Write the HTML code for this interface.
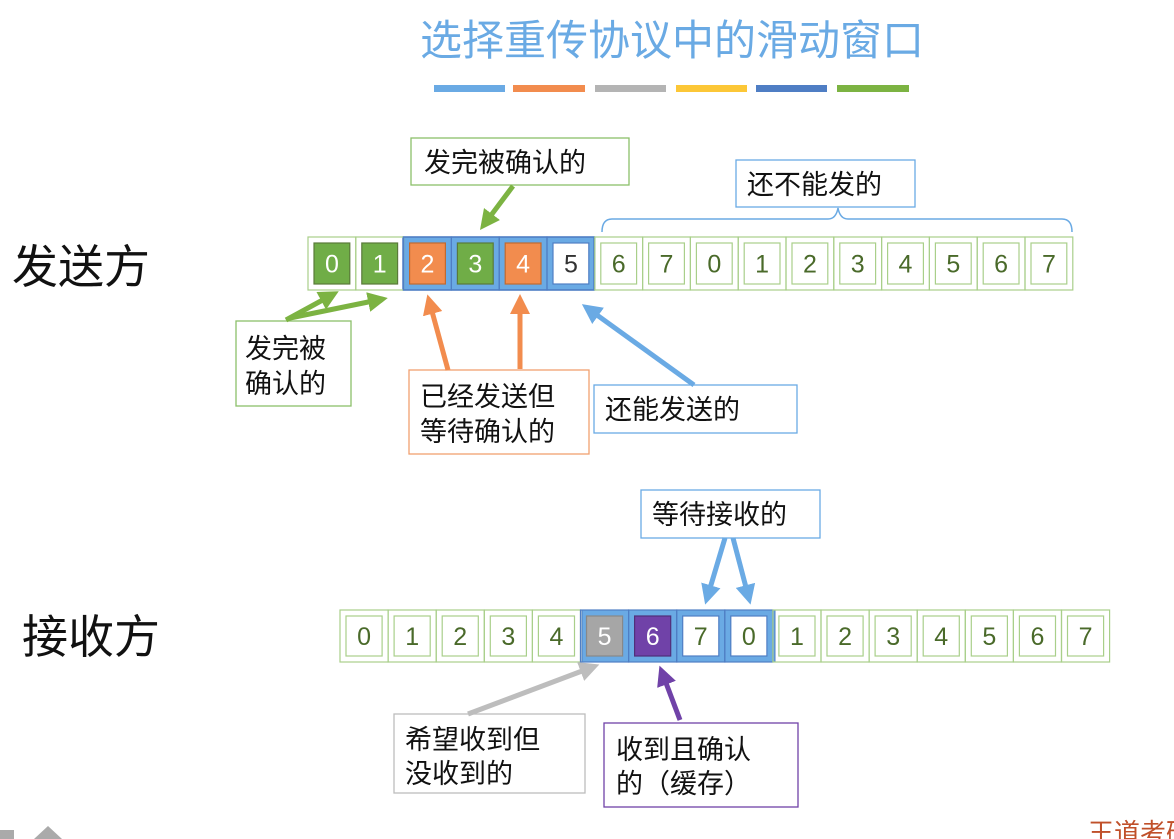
<!DOCTYPE html>
<html><head><meta charset="utf-8"><style>
html,body{margin:0;padding:0;background:#fff;}
svg{display:block;}
text{font-family:"Liberation Sans","Noto Sans CJK SC",sans-serif;}
</style></head><body>
<svg width="1174" height="839" viewBox="0 0 1174 839" xmlns="http://www.w3.org/2000/svg">
<defs>
<marker id="ag" markerWidth="4" markerHeight="4" refX="2" refY="2" orient="auto" markerUnits="strokeWidth"><path d="M0,0 L4,2 L0,4 z" fill="#7cb342"/></marker>
<marker id="ao" markerWidth="4" markerHeight="4" refX="2" refY="2" orient="auto" markerUnits="strokeWidth"><path d="M0,0 L4,2 L0,4 z" fill="#f28c4e"/></marker>
<marker id="ab" markerWidth="4" markerHeight="4" refX="2" refY="2" orient="auto" markerUnits="strokeWidth"><path d="M0,0 L4,2 L0,4 z" fill="#6aaae4"/></marker>
<marker id="ay" markerWidth="4" markerHeight="4" refX="2" refY="2" orient="auto" markerUnits="strokeWidth"><path d="M0,0 L4,2 L0,4 z" fill="#bdbdbd"/></marker>
<marker id="ap" markerWidth="4" markerHeight="4" refX="2" refY="2" orient="auto" markerUnits="strokeWidth"><path d="M0,0 L4,2 L0,4 z" fill="#7042a8"/></marker>
</defs>
<text x="672" y="55" text-anchor="middle" font-size="42" fill="#6aaae4">选择重传协议中的滑动窗口</text>
<g>
<rect x="434" y="85" width="71" height="7" fill="#6aaae4"/>
<rect x="513" y="85" width="72" height="7" fill="#f28c4e"/>
<rect x="595" y="85" width="71" height="7" fill="#b4b4b4"/>
<rect x="676" y="85" width="71" height="7" fill="#fcc737"/>
<rect x="756" y="85" width="71" height="7" fill="#4f7ec4"/>
<rect x="837" y="85" width="72" height="7" fill="#7cb342"/>
</g>
<text x="12" y="283" font-size="46" fill="#111">发送方</text>
<text x="22" y="653" font-size="46" fill="#111">接收方</text>

<rect x="403" y="237" width="191" height="53" fill="#6aaae4" stroke="#4f7ec4" stroke-width="1.5"/>
<script>
(function(){
var ns="http://www.w3.org/2000/svg";var svg=document.querySelector('svg');
function cell(x,y,w,h,lab,fill,tcol,out,inStroke){
 var g=document.createElementNS(ns,'g');
 if(out){var r=document.createElementNS(ns,'rect');r.setAttribute('x',x);r.setAttribute('y',y);r.setAttribute('width',w);r.setAttribute('height',h);r.setAttribute('fill','none');r.setAttribute('stroke',out);r.setAttribute('stroke-width','1.2');g.appendChild(r);}
 var iw=w-12,ih=h-12;var r2=document.createElementNS(ns,'rect');r2.setAttribute('x',x+6);r2.setAttribute('y',y+6);r2.setAttribute('width',iw);r2.setAttribute('height',ih);r2.setAttribute('fill',fill);r2.setAttribute('stroke',inStroke);r2.setAttribute('stroke-width','1.2');g.appendChild(r2);
 var t=document.createElementNS(ns,'text');t.setAttribute('x',x+w/2);t.setAttribute('y',y+h/2+9);t.setAttribute('text-anchor','middle');t.setAttribute('font-size','25');t.setAttribute('fill',tcol);t.textContent=lab;g.appendChild(t);
 svg.appendChild(g);}
var sl=['0','1','2','3','4','5','6','7','0','1','2','3','4','5','6','7'];
var sw=47.8;
for(var i=0;i<16;i++){
 var x=308+i*sw,fill='#fff',tc='#4a6a2a',out='#a9cf8a',ist='#a9cf8a';
 if(i==0||i==1||i==3){fill='#70ad47';tc='#fff';ist='#5a7a3a';}
 if(i==2||i==4){fill='#f28c4e';tc='#fff';ist='#c06a30';}
 if(i==5){ist='#4f7ec4';tc='#333';}
 if(i>=2&&i<=5)out='#4f7ec4';
 cell(x,237,sw,53,sl[i],fill,tc,out,ist);
}
var rw=48.1;
var r=document.createElementNS(ns,'rect');r.setAttribute('x',582);r.setAttribute('y',610);r.setAttribute('width',193);r.setAttribute('height',52);r.setAttribute('fill','#6aaae4');r.setAttribute('stroke','#4f7ec4');svg.appendChild(r);
for(var i=0;i<16;i++){
 var x=340+i*rw,fill='#fff',tc='#4a6a2a',out='#a9cf8a',ist='#a9cf8a';
 if(i==5){fill='#a6a6a6';tc='#fff';ist='#888';}
 if(i==6){fill='#7042a8';tc='#fff';ist='#50307a';}
 if(i==7||i==8){ist='#4f7ec4';}
 if(i>=5&&i<=8)out='#4f7ec4';
 cell(x,610,rw,52,sl[i],fill,tc,out,ist);
}
})();
</script>

<path d="M602,232 Q602,219 612,219 L828,219 Q836,219 838,208 Q840,219 848,219 L1062,219 Q1072,219 1072,232" fill="none" stroke="#6aaae4" stroke-width="1.5"/>

<g font-size="27" fill="#111">
<rect x="411" y="138" width="218" height="47" fill="#fff" stroke="#8cbf6a" stroke-width="1.3"/>
<text x="424" y="172">发完被确认的</text>
<rect x="736" y="160" width="179" height="47" fill="#fff" stroke="#6aaae4" stroke-width="1.3"/>
<text x="747" y="194">还不能发的</text>
<rect x="236" y="321" width="115" height="85" fill="#fff" stroke="#8cbf6a" stroke-width="1.3"/>
<text x="245" y="358">发完被</text><text x="245" y="393">确认的</text>
<rect x="409" y="370" width="180" height="84" fill="#fff" stroke="#f0a070" stroke-width="1.3"/>
<text x="420" y="406">已经发送但</text><text x="420" y="441">等待确认的</text>
<rect x="594" y="385" width="203" height="48" fill="#fff" stroke="#6aaae4" stroke-width="1.3"/>
<text x="605" y="419">还能发送的</text>
<rect x="641" y="490" width="179" height="48" fill="#fff" stroke="#6aaae4" stroke-width="1.3"/>
<text x="652" y="524">等待接收的</text>
<rect x="394" y="714" width="191" height="79" fill="#fff" stroke="#bdbdbd" stroke-width="1.3"/>
<text x="405" y="749">希望收到但</text><text x="405" y="783">没收到的</text>
<rect x="604" y="723" width="194" height="84" fill="#fff" stroke="#7042a8" stroke-width="1.3"/>
<text x="616" y="759">收到且确认</text><text x="616" y="793">的（缓存）</text>
</g>

<g stroke-width="5" fill="none">
<line x1="513" y1="186" x2="486" y2="222" stroke="#7cb342" marker-end="url(#ag)"/>
<line x1="286" y1="320" x2="330" y2="296" stroke="#7cb342" marker-end="url(#ag)"/>
<line x1="290" y1="318" x2="378" y2="300" stroke="#7cb342" marker-end="url(#ag)"/>
<line x1="448" y1="370" x2="430" y2="304" stroke="#f28c4e" marker-end="url(#ao)"/>
<line x1="520" y1="369" x2="520" y2="304" stroke="#f28c4e" marker-end="url(#ao)"/>
<line x1="694" y1="385" x2="590" y2="310" stroke="#6aaae4" marker-end="url(#ab)"/>
<line x1="725" y1="538" x2="708" y2="595" stroke="#6aaae4" marker-end="url(#ab)"/>
<line x1="733" y1="538" x2="748" y2="595" stroke="#6aaae4" marker-end="url(#ab)"/>
<line x1="468" y1="714" x2="590" y2="668" stroke="#bdbdbd" marker-end="url(#ay)"/>
<line x1="680" y1="720" x2="663" y2="675" stroke="#7042a8" marker-end="url(#ap)"/>
</g>
<text x="1088" y="842" font-size="26" fill="#c0502a">王道考研</text>
<rect x="0" y="830" width="14" height="9" fill="#aaa"/>
<path d="M34,839 L48,826 L62,839 z" fill="#aaa"/>
</svg>
</body></html>
